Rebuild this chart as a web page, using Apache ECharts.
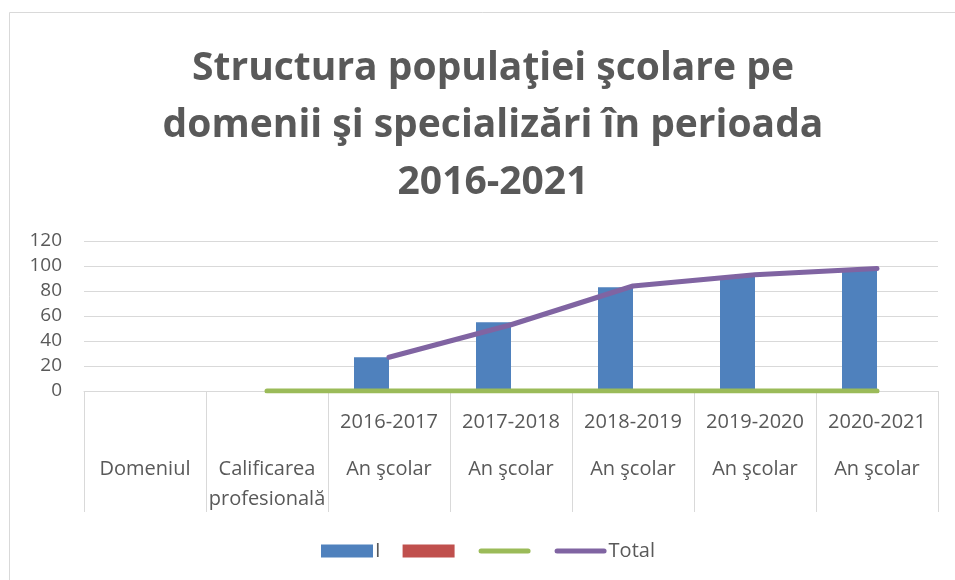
<!DOCTYPE html>
<html>
<head>
<meta charset="utf-8">
<script src="https://cdn.jsdelivr.net/npm/echarts@6/dist/echarts.min.js"></script>
<style>
	html, body { margin: 0; padding: 0; background: #fff; }
	#chart { width: 955px; height: 580px; }
</style>
</head>
<body>
<div id="chart"></div>
<script>
// categories, two levels
var years = ['', '', '2016-2017', '2017-2018', '2018-2019', '2019-2020', '2020-2021'];
var groups = ['Domeniul', 'Calificarea\nprofesională', 'An şcolar', 'An şcolar', 'An şcolar', 'An şcolar', 'An şcolar'];

// series values
var seriesI = [null, null, 27, 55, 83, 92, 97];
var seriesRed = [null, null, null, null, null, null, null];
var seriesGreen = [null, 0, 0, 0, 0, 0, 0];
var seriesTotal = [null, null, 27, 53, 84, 93, 98];

var yTicks = [0, 20, 40, 60, 80, 100, 120];

var font = '"Open Sans", "DejaVu Sans", sans-serif';
var textColor = '#595959';
var lineGrey = '#d9d9d9';
var lineIcon = 'path://M2.5,0 h47 a2.5,2.5 0 0 1 0,5 h-47 a2.5,2.5 0 0 1 0,-5 z';

var chart = echarts.init(document.getElementById('chart'));
var option = {
	backgroundColor: '#fff',
	textStyle: { fontFamily: font },
	graphic: [{
		type: 'rect',
		shape: { x: 9.5, y: 12.5, width: 960, height: 600 },
		style: { fill: 'none', stroke: lineGrey, lineWidth: 1 },
		silent: true
	}],
	title: {
		text: 'Structura populaţiei şcolare pe\ndomenii şi specializări în perioada\n2016-2021',
		left: 488,
		top: 35,
		textAlign: 'center',
		textStyle: {
			fontFamily: font,
			fontSize: 39,
			fontWeight: 'bold',
			color: textColor,
			lineHeight: 57
		}
	},
	legend: {
		top: 536,
		left: 316,
		itemWidth: 52,
		itemHeight: 13,
		itemGap: 22,
		textStyle: { color: textColor, fontSize: 20, fontFamily: font, padding: [0, 0, 0, -3] },
		data: [
			{ name: 'I', icon: 'rect' },
			{ name: '\u200b', icon: 'rect' },
			{ name: '\u200b\u200b', icon: lineIcon },
			{ name: 'Total', icon: lineIcon }
		]
	},
	grid: {
		left: 84,
		right: 17,
		top: 241,
		bottom: 189,
		containLabel: false
	},
	xAxis: [{
		type: 'category',
		data: years,
		position: 'bottom',
		axisLine: { lineStyle: { color: lineGrey, width: 1 } },
		axisTick: { show: true, interval: 0, length: 121, lineStyle: { color: lineGrey } },
		axisLabel: { interval: 0, margin: 21, color: textColor, fontSize: 20, fontFamily: font }
	}, {
		type: 'category',
		data: groups,
		position: 'bottom',
		axisLine: { show: false },
		axisTick: { show: false },
		axisLabel: { interval: 0, margin: 63, color: textColor, fontSize: 20, lineHeight: 30, fontFamily: font }
	}],
	yAxis: {
		type: 'value',
		min: yTicks[0],
		max: yTicks[yTicks.length - 1],
		interval: 20,
		axisLine: { show: false },
		axisTick: { show: false },
		splitLine: { lineStyle: { color: lineGrey, width: 1 } },
		axisLabel: { margin: 22, color: textColor, fontSize: 19, fontFamily: font }
	},
	series: [{
		name: 'I',
		type: 'bar',
		barWidth: 35,
		barGap: '0%',
		itemStyle: { color: '#4f81bd' },
		data: seriesI
	}, {
		name: '\u200b',
		type: 'bar',
		barWidth: 35,
		itemStyle: { color: '#c0504d' },
		data: seriesRed
	}, {
		name: '\u200b\u200b',
		type: 'line',
		symbol: 'none',
		itemStyle: { color: '#9bbb59' },
		lineStyle: { color: '#9bbb59', width: 5, cap: 'round' },
		data: seriesGreen
	}, {
		name: 'Total',
		type: 'line',
		symbol: 'none',
		itemStyle: { color: '#8064a2' },
		lineStyle: { color: '#8064a2', width: 5, cap: 'round' },
		data: seriesTotal
	}]
};
chart.setOption(option);
</script>
</body>
</html>
